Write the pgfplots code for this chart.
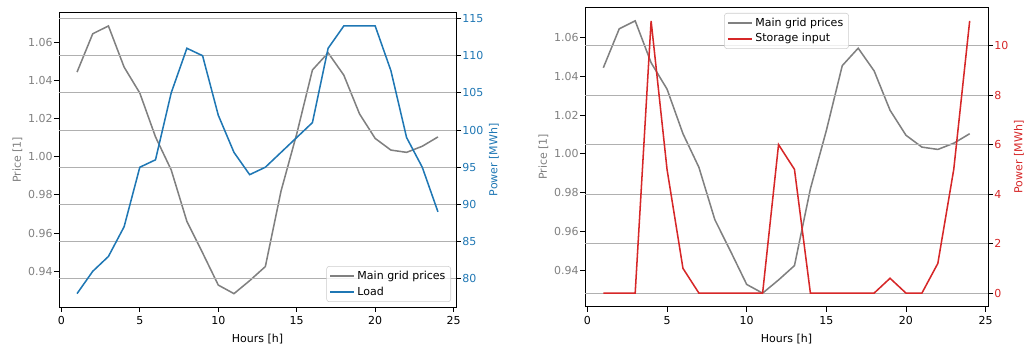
\documentclass[border=0pt]{standalone}
\usepackage{fontspec}
\setmainfont{DejaVu Sans}
\usepackage{pgfplots}
\usepackage{pgfplotstable}
\pgfplotsset{compat=1.18}
\definecolor{mplgray}{HTML}{808080}
\definecolor{mplblue}{HTML}{1F77B4}
\definecolor{mplred}{HTML}{D62728}
\definecolor{gridgray}{HTML}{B0B0B0}
\definecolor{legedge}{HTML}{CCCCCC}
\newcommand\f{\fontsize{8.25}{9.9}\selectfont}
\pgfplotstableread{
h price load storage
1 1.0444 78 0
2 1.0645 81 0
3 1.0686 83 0
4 1.0470 87 11
5 1.0334 95 5
6 1.0104 96 1
7 0.9931 105 0
8 0.9661 111 0
9 0.9496 110 0
10 0.9327 102 0
11 0.9282 97 0
12 0.9350 94 6
13 0.9424 95 5
14 0.9820 97 0
15 1.0120 99 0
16 1.0455 101 0
17 1.0545 111 0
18 1.0428 114 0
19 1.0225 114 0.6
20 1.0096 114 0
21 1.0035 108 0
22 1.0023 99 1.2
23 1.0055 95 5
24 1.0104 89 11
}\datatable
\pgfplotsset{
  base/.style={
    scale only axis,
    anchor=south west,
    font=\f,
    xmin=-0.15, xmax=25.15,
    tick align=outside,
    major tick length=3.75pt,
    axis line style={line width=0.6pt},
    every tick/.style={black, line width=0.6pt},
    /pgf/number format/assume math mode=true,
    legend cell align=left,
    legend style={font=\f, draw=legedge, rounded corners=2pt, fill=white, fill opacity=0.8, draw opacity=1, text opacity=1, inner xsep=2pt, inner ysep=1.5pt, row sep=0pt},
    legend image code/.code={\draw[#1] (0pt,0pt) -- (18pt,0pt);},
  },
  priceax/.style={
    base,
    ymin=0.9212, ymax=1.0756,
    ytick={0.94,0.96,...,1.07},
    yticklabel style={text=mplgray, inner xsep=0.8pt, /pgf/number format/.cd, fixed, fixed zerofill, precision=2},
    ylabel={Price [1]}, ylabel style={text=mplgray},
    xtick={0,5,...,25}, xtick pos=bottom, ytick pos=left,
    xlabel={Hours [h]},
  },
  powerax/.style={
    base,
    axis x line=none,
    axis y line*=right,
    ymajorgrids,
    major grid style={gridgray, line width=0.6pt},
  },
}
\begin{document}
\begin{tikzpicture}
\useasboundingbox (0pt,0pt) rectangle (768pt,258.75pt);
% ---------- left chart ----------
\begin{axis}[priceax, at={(44.25pt,28.5pt)}, width=297.75pt, height=220.8pt]
\addplot[mplgray, line width=1.15pt] table[x=h, y=price] {\datatable};
\end{axis}
\begin{axis}[powerax, at={(44.25pt,28.5pt)}, width=297.75pt, height=220.8pt,
  ymin=76.2, ymax=115.8, ytick={80,85,...,115},
  yticklabel style={text=mplblue, inner xsep=0.8pt},
  ylabel={Power [MWh]}, ylabel style={text=mplblue},
  legend style={at={(1,0)}, anchor=south east, xshift=-3.75pt, yshift=3.75pt}]
\addlegendimage{mplgray, line width=1.15pt}
\addlegendentry{Main grid prices}
\addplot[mplblue, line width=1.15pt] table[x=h, y=load] {\datatable};
\addlegendentry{Load}
\end{axis}
% ---------- right chart ----------
\begin{axis}[priceax, at={(438.75pt,28.7pt)}, width=302.25pt, height=224.6pt]
\addplot[mplgray, line width=1.15pt] table[x=h, y=price] {\datatable};
\end{axis}
\begin{axis}[powerax, at={(438.75pt,28.7pt)}, width=302.25pt, height=224.6pt,
  ymin=-0.55, ymax=11.55, ytick={0,2,...,10},
  yticklabel style={text=mplred, inner xsep=0.8pt},
  ylabel={Power [MWh]}, ylabel style={text=mplred},
  legend style={at={(0.5,1)}, anchor=north, yshift=-4.3pt}]
\addlegendimage{mplgray, line width=1.15pt}
\addlegendentry{Main grid prices}
\addplot[mplred, line width=1.15pt] table[x=h, y=storage] {\datatable};
\addlegendentry{Storage input}
\end{axis}
\end{tikzpicture}
\end{document}
